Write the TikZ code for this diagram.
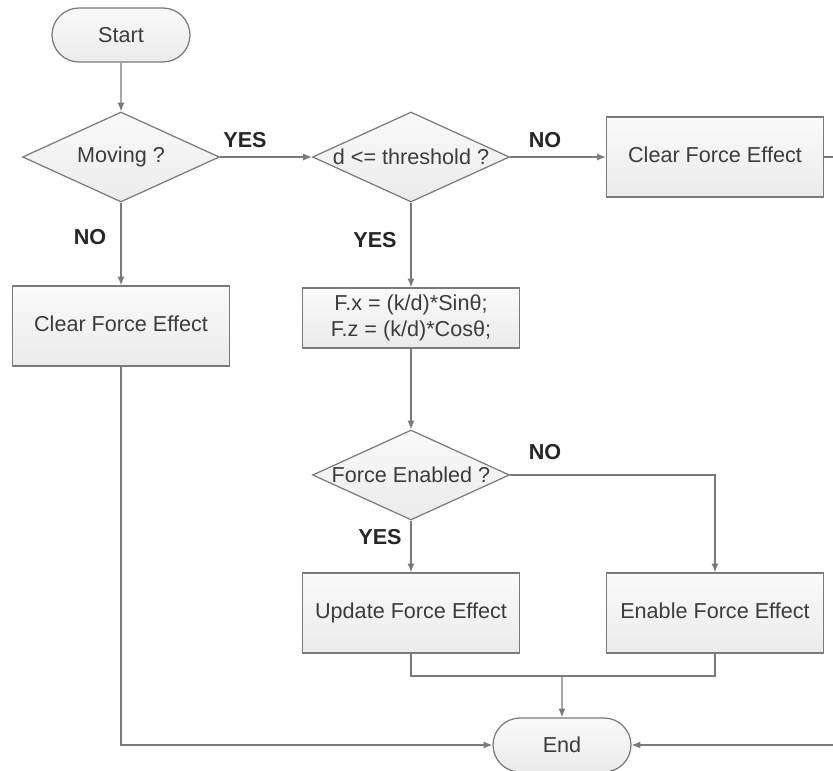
\documentclass[tikz,border=0pt]{standalone}
\usepackage{fontspec}
\setmainfont{Liberation Sans}
\usepackage{tikz}
\usetikzlibrary{shapes.geometric, shapes.misc, arrows.meta, positioning, calc}

\definecolor{edgegray}{HTML}{7A7A7A}
\definecolor{inkgray}{HTML}{3C3C3C}

\begin{document}
\begin{tikzpicture}[x=0.02cm, y=-0.02cm,
  every node/.style={font=\fontsize{12.3}{14.5}\selectfont, text=inkgray},
  boxfill/.style={draw=edgegray, line width=0.7pt, top color=gray!4, bottom color=gray!16},
  terminal/.style={boxfill, rounded rectangle, minimum width=2.76cm, minimum height=1.08cm, inner sep=0pt},
  decision/.style={boxfill, diamond, aspect=2.19, minimum width=3.94cm, minimum height=1.8cm, inner sep=-1pt},
  process/.style={boxfill, rectangle, minimum width=4.34cm, minimum height=1.6cm, align=center},
  oneline/.style={text height=0.72em, text depth=0.05em},
  flow/.style={draw=edgegray, line width=0.7pt, -{Latex[length=5pt,width=4pt]}},
  link/.style={draw=edgegray, line width=0.7pt},
  lbl/.style={font=\fontsize{12.3}{14.5}\selectfont\bfseries, text=black!85}]
\useasboundingbox (0,0) rectangle (833,771);
\clip (0,0) rectangle (833,771);

% Nodes of the flow
\node[terminal] (start) at (121,35) {Start};
\node[decision] (moving) at (121,157) {Moving ?};
\node[decision] (thresh) at (411,157) {d <= threshold ?};
\node[process, oneline] (clearR) at (715,157) {Clear Force Effect};
\node[process, oneline] (clearL) at (121,326) {Clear Force Effect};
\node[process, minimum height=1.2cm] (formula) at (411,318) {F.x = (k/d)*Sinθ;\\F.z = (k/d)*Cosθ;};
\node[decision] (enabled) at (411,475) {Force Enabled ?};
\node[process, oneline] (update) at (411,613) {Update Force Effect};
\node[process, oneline] (enable) at (715,613) {Enable Force Effect};
\node[terminal] (end) at (562,745) {End};

% Branch labels
\node[lbl] (yesA) at (245,140) {YES};
\node[lbl] (noA) at (545,140) {NO};
\node[lbl] (noB) at (90,237) {NO};
\node[lbl] (yesB) at (375,240) {YES};
\node[lbl] (noC) at (545,452) {NO};
\node[lbl] (yesC) at (380,537) {YES};

% Helper points
\coordinate (merge) at (562,676);
\coordinate (rlane) at (850,157);

% Connectors
\draw[flow] (start) -- (moving);
\draw[flow] (moving) -- (thresh);
\draw[flow] (thresh) -- (clearR);
\draw[flow] (moving) -- (clearL);
\draw[flow] (thresh) -- (formula);
\draw[flow] (formula) -- (enabled);
\draw[flow] (enabled) -- (update);
\draw[flow] (enabled.east) -| (enable.north);
\draw[link] (update.south) |- (merge);
\draw[link] (enable.south) |- (merge);
\draw[flow] (merge) -- (end);
\draw[flow] (clearL.south) |- (end.west);
\draw[link] (clearR.east) -- (rlane);
\draw[flow] (rlane) |- (end.east);
\end{tikzpicture}
\end{document}
